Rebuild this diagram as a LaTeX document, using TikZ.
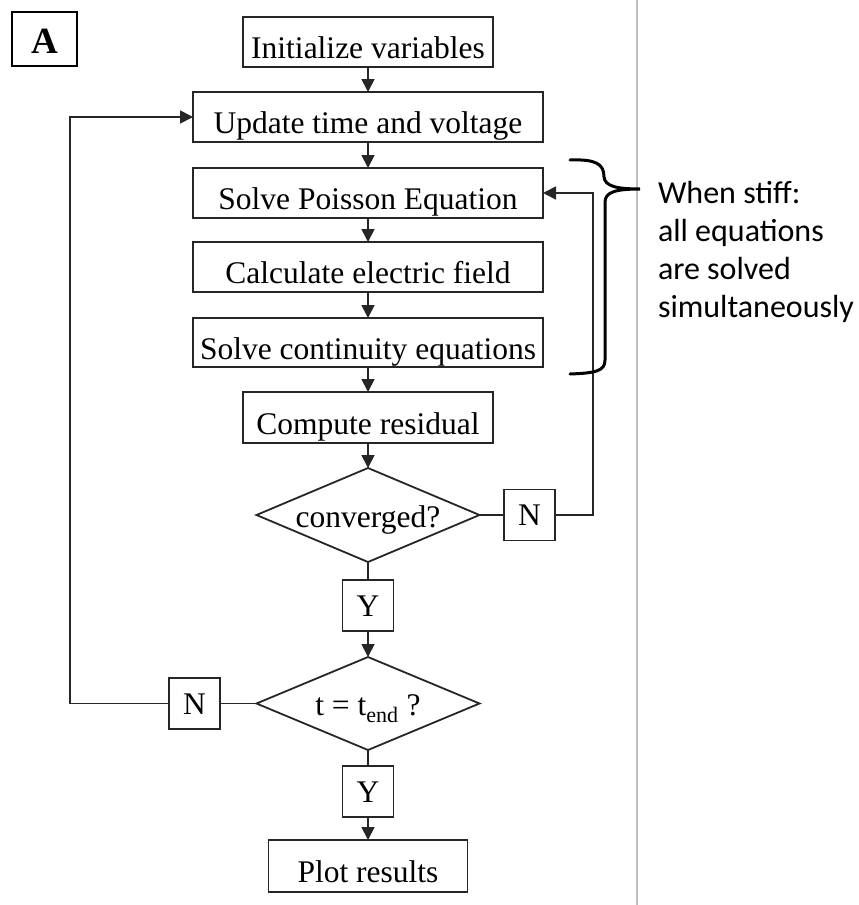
\documentclass[tikz,border=0pt]{standalone}
\usepackage{fontspec}
\setmainfont{Liberation Serif}
\newfontfamily\calib{Carlito}
\usetikzlibrary{shapes.geometric,arrows.meta}
\begin{document}
\begin{tikzpicture}[x=1pt,y=-1pt,
  every node/.style={inner sep=0pt, outer sep=0pt},
  fbox/.style={draw=black!85, line width=1.8pt, rectangle, text height=33pt, text depth=0pt,
    font=\fontsize{31.5}{36}\selectfont},
  yn/.style={draw=black!85, line width=1.8pt, rectangle, minimum width=51pt, minimum height=51pt,
    text height=21pt, text depth=0pt, font=\fontsize{31.5}{36}\selectfont},
  dia/.style={draw=black!85, line width=1.8pt, diamond, minimum width=223pt, minimum height=94pt,
    text height=24pt, text depth=0pt, font=\fontsize{31.5}{36}\selectfont},
  conn/.style={draw=black!85, line width=1.8pt},
  arr/.style={conn, -{Triangle[length=13pt,width=13pt]}},
  side/.style={font=\calib\fontsize{32}{38}\selectfont, anchor=base west}
]
\useasboundingbox (0,0) rectangle (859,905);

% separator line
\draw[black!25, line width=1.5pt] (637,0) -- (637,905);

% label A
\node[draw=black, line width=1.8pt, minimum width=65pt, minimum height=54pt, text height=29pt, text depth=0pt,
  font=\bfseries\fontsize{37}{40}\selectfont] (A) at (44.5,39) {A};

% boxes
\node[fbox, minimum width=250pt, minimum height=50pt] (init) at (368,42) {Initialize variables};
\node[fbox, minimum width=350pt, minimum height=50pt] (update) at (368,117) {Update time and voltage};
\node[fbox, minimum width=350pt, minimum height=50pt] (poisson) at (368,193) {Solve Poisson Equation};
\node[fbox, minimum width=350pt, minimum height=50pt] (calc) at (368,267) {Calculate electric field};
\node[fbox, minimum width=350pt, minimum height=49pt] (cont) at (368,342.5) {Solve continuity equations};
\node[fbox, minimum width=250pt, minimum height=51pt] (resid) at (368,417.5) {Compute residual};
\node[dia] (conv) at (368,515) {\makebox[0pt]{converged?}};
\node[yn] (N1) at (529.5,515) {N};
\node[yn] (Y1) at (368,605.5) {Y};
\node[dia, minimum height=93pt] (tend) at (368,703.5) {\makebox[0pt]{t = t\textsubscript{end} ?}};
\node[yn] (N2) at (194.5,703.5) {N};
\node[yn] (Y2) at (368,791.5) {Y};
\node[fbox, minimum width=199pt, minimum height=52pt] (plot) at (368,866) {Plot results};

% connectors
\draw[arr] (init) -- (update);
\draw[arr] (update) -- (poisson);
\draw[arr] (poisson) -- (calc);
\draw[arr] (calc) -- (cont);
\draw[arr] (cont) -- (resid);
\draw[arr] (resid) -- (conv);
\draw[conn] (conv) -- (Y1);
\draw[arr] (Y1) -- (tend);
\draw[conn] (tend) -- (Y2);
\draw[arr] (Y2) -- (plot);
\draw[conn] (conv) -- (N1);
\draw[arr] (N1.east) -- ++(38,0) |- (poisson.east);
\draw[conn] (tend) -- (N2);
\draw[arr] (N2.west) -- ++(-99,0) |- (update.west);

% brace
\draw[black, line width=3pt, line cap=round]
  (570,160) .. controls (596,159) and (604,164) .. (604,177)
  .. controls (605,186) and (616,189) .. (640,189)
  .. controls (616,189) and (605,192) .. (605,202)
  -- (605,360)
  .. controls (605,371) and (596,373) .. (570,374);

% side text
\node[side] (s1) at (658,203) {When stiff:};
\node[side] (s2) at (658,241) {all equations};
\node[side] (s3) at (658,279) {are solved};
\node[side] (s4) at (658,317) {simultaneously};
\end{tikzpicture}
\end{document}
